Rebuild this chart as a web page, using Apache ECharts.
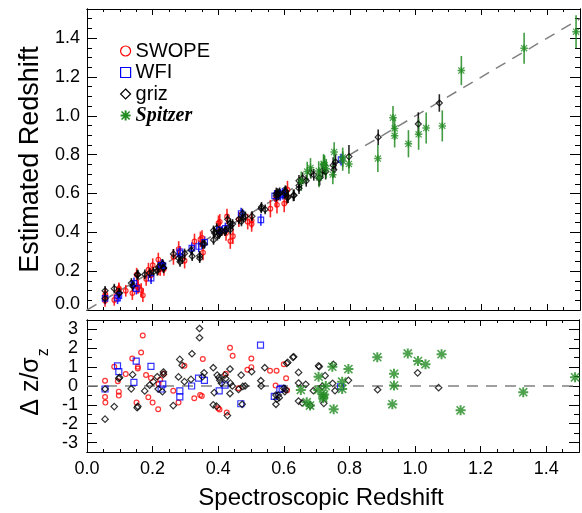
<!DOCTYPE html>
<html><head><meta charset="utf-8">
<script src="https://cdn.jsdelivr.net/npm/echarts@6/dist/echarts.min.js"></script>
<style>html,body{margin:0;padding:0;background:#fff}#c{width:582px;height:513px}</style>
</head><body><div id="c"></div>
<script>
// ---------------- DATA ----------------
// SWOPE
const swopeZspec = [0.055,0.055,0.056,0.083,0.097,0.097,0.094,0.118,0.138,0.155,0.155,0.165,0.170,0.151,0.180,0.187,0.195,0.200,0.217,0.218,0.223,0.234,0.263,0.279,0.297,0.327,0.345,0.350,0.353,0.400,0.404,0.426,0.436,0.444,0.423,0.462,0.489,0.501,0.501,0.558,0.578,0.575,0.600,0.607,0.610];
const swopeZphot = [0.047,0.072,0.082,0.052,0.106,0.112,0.087,0.099,0.087,0.119,0.122,0.103,0.076,0.182,0.160,0.208,0.180,0.231,0.260,0.214,0.211,0.211,0.273,0.314,0.254,0.353,0.364,0.371,0.296,0.447,0.454,0.482,0.355,0.380,0.397,0.467,0.455,0.443,0.461,0.522,0.542,0.574,0.548,0.589,0.620];
const swopeErr   = [0.03,0.03,0.03,0.03,0.03,0.03,0.03,0.03,0.035,0.035,0.035,0.035,0.035,0.035,0.035,0.035,0.035,0.035,0.035,0.035,0.035,0.035,0.04,0.04,0.04,0.04,0.04,0.04,0.04,0.04,0.04,0.04,0.04,0.04,0.04,0.04,0.04,0.04,0.04,0.045,0.045,0.045,0.045,0.045,0.045];
const swopeDz    = [0.28,-0.58,-0.88,1.02,-0.30,-0.51,0.25,0.63,1.46,1.02,0.93,1.78,2.68,-0.88,0.58,-0.60,0.42,-0.88,-1.23,0.10,0.33,0.65,-0.25,-0.88,1.07,-0.65,-0.48,-0.53,1.43,-1.18,-1.25,-1.41,2.03,1.60,0.65,-0.12,0.86,1.46,1.00,0.81,0.81,0.02,1.15,0.41,-0.22];
// WFI
const wfiZspec = [0.055,0.093,0.097,0.150,0.143,0.195,0.231,0.226,0.283,0.283,0.319,0.340,0.358,0.403,0.421,0.469,0.529,0.571,0.595,0.588,0.773];
const wfiZphot = [0.060,0.061,0.074,0.110,0.137,0.164,0.228,0.231,0.291,0.300,0.319,0.327,0.349,0.411,0.420,0.497,0.464,0.588,0.599,0.593,0.774];
const wfiErr   = [0.03,0.03,0.03,0.03,0.03,0.03,0.03,0.03,0.03,0.03,0.03,0.03,0.03,0.03,0.03,0.03,0.03,0.03,0.03,0.03,0.03];
const wfiDz    = [-0.16,1.07,0.76,1.32,0.19,1.04,0.10,-0.16,-0.26,-0.58,0.00,0.42,0.30,-0.26,0.05,-0.94,2.17,-0.55,-0.12,-0.18,-0.04];
// griz
const grizZspec = [0.055,0.055,0.083,0.097,0.099,0.139,0.135,0.153,0.155,0.176,0.191,0.202,0.214,0.233,0.233,0.217,0.230,0.263,0.279,0.283,0.290,0.297,0.320,0.317,0.343,0.343,0.352,0.357,0.385,0.385,0.388,0.397,0.402,0.405,0.410,0.395,0.420,0.423,0.428,0.436,0.437,0.436,0.443,0.462,0.470,0.473,0.475,0.482,0.502,0.530,0.531,0.542,0.576,0.576,0.579,0.583,0.586,0.600,0.609,0.612,0.628,0.630,0.603,0.605,0.645,0.645,0.645,0.656,0.667,0.681,0.690,0.706,0.708,0.726,0.717,0.722,0.751,0.749,0.756,0.797,0.886,1.008,1.072];
const grizZphot = [0.059,0.099,0.110,0.087,0.088,0.124,0.139,0.182,0.182,0.183,0.190,0.196,0.202,0.215,0.218,0.221,0.238,0.289,0.267,0.248,0.262,0.291,0.277,0.308,0.267,0.279,0.340,0.340,0.361,0.410,0.397,0.383,0.391,0.398,0.406,0.422,0.406,0.413,0.467,0.414,0.433,0.446,0.443,0.467,0.456,0.497,0.476,0.482,0.483,0.523,0.531,0.518,0.588,0.600,0.597,0.595,0.601,0.603,0.579,0.581,0.590,0.591,0.611,0.610,0.627,0.641,0.665,0.679,0.665,0.707,0.696,0.679,0.682,0.712,0.718,0.745,0.722,0.746,0.762,0.790,0.890,0.958,1.066];
const grizErr   = [0.025,0.025,0.025,0.025,0.025,0.025,0.025,0.025,0.025,0.025,0.025,0.025,0.025,0.025,0.025,0.025,0.025,0.025,0.025,0.025,0.025,0.025,0.025,0.025,0.025,0.025,0.025,0.025,0.025,0.025,0.025,0.025,0.025,0.025,0.025,0.025,0.025,0.025,0.025,0.025,0.025,0.025,0.025,0.025,0.025,0.025,0.025,0.025,0.025,0.025,0.025,0.025,0.03,0.03,0.03,0.03,0.03,0.03,0.03,0.03,0.03,0.03,0.03,0.03,0.03,0.03,0.03,0.03,0.03,0.03,0.03,0.04,0.04,0.04,0.04,0.04,0.04,0.04,0.04,0.06,0.04,0.06,0.045];
const grizDz    = [-0.16,-1.76,-1.09,0.40,0.45,0.60,-0.15,-1.15,-1.08,-0.26,0.05,0.23,0.49,0.74,0.62,-0.16,-0.30,-1.04,0.48,1.41,1.10,0.23,1.71,0.35,3.05,2.56,0.49,0.70,0.97,-1.00,-0.35,0.58,0.45,0.30,0.15,-1.07,0.58,0.40,-1.57,0.90,0.15,-0.40,0.00,-0.18,0.58,-0.97,-0.02,0.00,0.76,0.28,0.00,0.97,-0.48,-0.97,-0.70,-0.48,-0.62,-0.12,1.20,1.25,1.52,1.55,-0.30,-0.18,0.72,0.16,-0.80,-0.90,0.09,-1.04,-0.25,1.07,1.02,0.55,-0.02,-0.92,1.15,0.14,-0.25,0.30,-0.20,0.70,-0.09];
// Spitzer
const spitZspec = [0.652,0.670,0.680,0.706,0.705,0.720,0.720,0.723,0.728,0.748,0.752,0.778,0.778,0.797,0.885,0.936,0.936,0.931,0.978,1.009,1.032,1.081,1.139,1.330,1.488];
const spitZphot = [0.663,0.713,0.732,0.682,0.716,0.748,0.753,0.746,0.728,0.697,0.814,0.767,0.786,0.752,0.780,0.897,0.935,0.990,0.856,0.905,0.937,0.948,1.233,1.348,1.433];
const spitErr   = [0.05,0.05,0.05,0.05,0.05,0.05,0.05,0.05,0.05,0.05,0.05,0.05,0.05,0.05,0.07,0.06,0.06,0.06,0.07,0.08,0.08,0.08,0.075,0.08,0.085];
const spitDz    = [-0.21,-0.86,-1.04,0.49,-0.21,-0.55,-0.65,-0.45,0.00,1.02,-1.23,0.23,-0.16,0.90,1.53,0.65,0.02,-0.97,1.73,1.32,1.15,1.69,-1.29,-0.33,0.46];
// reference lines
const diagX = [0, 1.5], diagY = [0, 1.5];
const zeroX = [0, 1.5], zeroY = [0, 0];

// ---------------- STYLE ----------------
const FONT = 'Liberation Sans, Arial, Helvetica, sans-serif';
const RED = '#ff0000', BLUE = '#0000ff', BLACK = '#000000', GREEN = '#228b22';
const STAR = 'path://M0 40L100 40L100 60L0 60Z M40 0L60 0L60 100L40 100Z M15 4L96 85L85 96L4 15Z M96 15L15 96L4 85L85 4Z';

const groups = [
  {name:'SWOPE', zs:swopeZspec, zp:swopeZphot, err:swopeErr, dz:swopeDz, color:RED, symbol:'circle', hollow:true, topSize:4.5, botSize:4.8},
  {name:'WFI', zs:wfiZspec, zp:wfiZphot, err:wfiErr, dz:wfiDz, color:BLUE, symbol:'rect', hollow:true, topSize:5.5, botSize:6},
  {name:'griz', zs:grizZspec, zp:grizZphot, err:grizErr, dz:grizDz, color:BLACK, symbol:'diamond', hollow:true, topSize:6, botSize:6.5},
  {name:'Spitzer', zs:spitZspec, zp:spitZphot, err:spitErr, dz:spitDz, color:GREEN, symbol:STAR, hollow:false, topSize:7.5, botSize:10}
];

function itemStyleFor(g){
  return g.hollow ? {color:'rgba(0,0,0,0)', borderColor:g.color, borderWidth:1.2}
                  : {color:g.color, borderWidth:0};
}

function ax(gi, pos, min, max, interval, len, extra){
  const o = {
    type:'value', gridIndex:gi, position:pos, min:min, max:max,
    axisLine:{show:true, onZero:false, lineStyle:{color:'#000', width:1}},
    axisTick:{show:true, inside:true, length:len, lineStyle:{color:'#000', width:1}},
    axisLabel:{show:false},
    splitLine:{show:false},
    silent:true
  };
  if (interval !== null) o.interval = interval;
  return Object.assign(o, extra || {});
}

const labelStyle = {fontFamily:FONT, fontSize:18, color:'#000'};

const xAxes = [
  ax(0,'bottom',0,1.5,0.2,6),
  ax(0,'bottom',0,1.5,0.05,3),
  ax(0,'top',0,1.5,0.2,6),
  ax(0,'top',0,1.5,0.05,3),
  ax(1,'bottom',0,1.5,0.2,6,{
    axisLabel:Object.assign({show:true, margin:8, formatter:v => (v > 1.45 ? '' : v.toFixed(1))}, labelStyle),
    name:'Spectroscopic Redshift', nameLocation:'middle', nameGap:34,
    nameTextStyle:{fontFamily:FONT, fontSize:24, color:'#000', padding:[0,24,0,0]}
  }),
  ax(1,'bottom',0,1.5,0.05,3),
  ax(1,'top',0,1.5,0.2,6),
  ax(1,'top',0,1.5,0.05,3)
];

const yAxes = [
  ax(0,'left',0,1.55,0.2,10,{
    axisLabel:Object.assign({show:true, margin:7,
      formatter:v => (v > 1.45 ? '' : (v === 0 ? '{lo|0.0}' : v.toFixed(1))),
      rich:{lo:{fontFamily:FONT, fontSize:18, color:'#000', padding:[0,0,12,0]}}}, labelStyle),
    name:'Estimated Redshift', nameLocation:'middle', nameGap:34,
    nameTextStyle:{fontFamily:FONT, fontSize:27, color:'#000'}
  }),
  ax(0,'left',0,1.55,0.05,5),
  ax(0,'right',0,1.55,0.2,10),
  ax(0,'right',0,1.55,0.05,5),
  ax(1,'left',-3.5,3.5,null,10,{
    splitNumber:7,
    axisLabel:Object.assign({show:true, margin:9, formatter:v => (Number.isInteger(v) ? String(v) : '')}, labelStyle),
    name:'{a|Δ z/σ}{s|z}', nameLocation:'middle', nameGap:38,
    nameTextStyle:{fontFamily:FONT, fontSize:25, color:'#000', padding:[0,0,0,8],
      rich:{a:{fontFamily:FONT, fontSize:25, color:'#000', lineHeight:27, verticalAlign:'top'},
            s:{fontFamily:FONT, fontSize:16, color:'#000', lineHeight:16, padding:[16,0,0,1], verticalAlign:'top'}}}
  }),
  ax(1,'left',-3.5,3.5,0.5,5),
  ax(1,'right',-3.5,3.5,null,10,{splitNumber:7}),
  ax(1,'right',-3.5,3.5,0.5,5)
];

const series = [];
series.push({type:'line', xAxisIndex:0, yAxisIndex:0, silent:true, symbol:'none', z:1,
  data: diagX.map((x,i) => [x, diagY[i]]),
  lineStyle:{color:'#808080', width:1.5, type:[11,8]}});
series.push({type:'line', xAxisIndex:4, yAxisIndex:4, silent:true, symbol:'none', z:1,
  data: zeroX.map((x,i) => [x, zeroY[i]]),
  lineStyle:{color:'#808080', width:1.5, type:[11,8]}});

groups.forEach((g, gi) => {
  series.push({
    type:'custom', name:g.name, xAxisIndex:0, yAxisIndex:0, silent:true, z:2 + gi,
    data: g.zs.map((x,i) => [x, g.zp[i] - g.err[i], g.zp[i] + g.err[i]]),
    encode:{x:0, y:[1,2]},
    renderItem:(params, api) => {
      const p1 = api.coord([api.value(0), api.value(1)]);
      const p2 = api.coord([api.value(0), api.value(2)]);
      return {type:'line', shape:{x1:p1[0], y1:p1[1], x2:p2[0], y2:p2[1]},
              style:{stroke:g.color, lineWidth:1.6, opacity:0.85}};
    }
  });
  series.push({
    type:'scatter', name:g.name, xAxisIndex:0, yAxisIndex:0, silent:true, z:3 + gi,
    symbol:g.symbol, symbolSize:g.topSize, itemStyle:itemStyleFor(g),
    data: g.zs.map((x,i) => [x, g.zp[i]])
  });
  series.push({
    type:'scatter', name:g.name, xAxisIndex:4, yAxisIndex:4, silent:true, z:3 + gi,
    symbol:g.symbol, symbolSize:g.botSize, itemStyle:itemStyleFor(g),
    data: g.zs.map((x,i) => [x, g.dz[i]])
  });
});

const option = {
  animation:false,
  backgroundColor:'#fff',
  grid:[
    {left:87, top:9, width:493, height:301},
    {left:87, top:320, width:493, height:132}
  ],
  xAxis:xAxes,
  yAxis:yAxes,
  legend:{
    orient:'vertical', left:115, top:36, itemWidth:10, itemHeight:10, itemGap:1.5,
    selectedMode:false,
    textStyle:{fontFamily:FONT, fontSize:20, color:'#000', lineHeight:20,
      rich:{sp:{fontFamily:'Liberation Serif, Times New Roman, serif', fontStyle:'italic', fontWeight:'bold', fontSize:20, color:'#000'}}},
    formatter:n => (n === 'Spitzer' ? '{sp|Spitzer}' : n),
    data: groups.map(g => ({name:g.name, icon:g.symbol, itemStyle:itemStyleFor(g)}))
  },
  series:series
};

const chart = echarts.init(document.getElementById('c'), null, {renderer:'canvas'});
chart.setOption(option);
</script>
</body></html>
